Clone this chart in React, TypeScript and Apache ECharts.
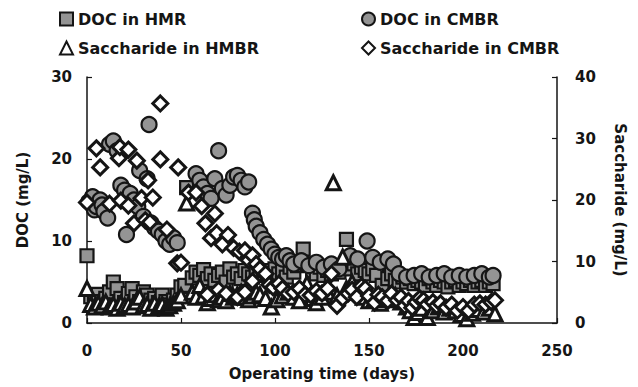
import React, { useEffect, useRef } from "react";
import * as echarts from "echarts";

// [day, DOC mg/L]
const docHmr: number[][] = [
  [0, 8.2], [2, 3.2], [4, 2.8], [6, 3.5], [8, 2.6], [10, 3.0], [12, 3.8], [14, 5.0], [16, 4.2], [18, 3.0],
  [20, 2.5], [22, 3.6], [24, 4.2], [26, 3.2], [28, 2.6], [30, 3.8], [32, 3.4], [34, 2.8], [36, 3.0], [38, 2.5],
  [40, 3.4], [42, 2.6], [44, 2.2], [46, 2.8], [48, 3.4], [50, 4.4], [52, 4.6], [53, 16.5], [56, 5.5], [58, 6.2],
  [60, 5.8], [62, 6.5], [64, 5.4], [66, 6.0], [68, 5.2], [70, 5.8], [72, 6.2], [74, 5.0], [76, 6.6], [78, 5.6],
  [80, 6.0], [82, 5.4], [84, 6.4], [86, 6.0], [88, 5.6], [90, 6.2], [92, 5.8], [94, 6.4], [96, 6.0], [98, 5.4],
  [100, 6.6], [102, 6.0], [104, 6.4], [106, 5.6], [108, 6.8], [110, 6.2], [112, 7.0], [115, 9.0], [117, 7.2], [120, 6.4],
  [122, 6.0], [124, 6.8], [126, 5.8], [128, 6.4], [130, 6.0], [132, 6.8], [134, 6.2], [136, 7.0], [138, 10.2], [140, 6.6],
  [142, 7.2], [144, 6.0], [146, 6.8], [148, 6.4], [150, 6.0], [152, 6.6], [154, 5.8], [157, 4.6], [160, 5.4], [162, 6.0],
  [164, 5.2], [166, 5.0], [168, 5.6], [170, 5.0], [172, 5.4], [174, 4.8], [176, 5.2], [178, 5.0], [180, 4.6], [182, 5.4],
  [184, 5.0], [186, 4.6], [188, 5.2], [190, 5.0], [192, 4.4], [194, 5.0], [196, 5.2], [198, 4.6], [200, 5.0], [202, 4.8],
  [204, 5.2], [206, 4.6], [208, 5.0], [210, 5.2], [212, 4.6], [214, 5.0], [216, 4.8],
];

// [day, DOC mg/L]
const docCmbr: number[][] = [
  [1, 14.8], [3, 15.4], [4, 13.8], [5, 14.2], [7, 15.0], [8, 14.4], [9, 13.6], [11, 12.8], [12, 21.8], [14, 22.2],
  [16, 21.0], [18, 16.8], [20, 16.2], [21, 10.8], [23, 15.8], [25, 15.0], [27, 14.2], [28, 18.6], [30, 13.0], [32, 17.6],
  [33, 24.2], [34, 12.2], [36, 11.6], [38, 11.2], [40, 10.8], [42, 10.0], [44, 9.6], [46, 10.4], [48, 9.8], [58, 18.2],
  [60, 17.4], [62, 16.6], [64, 15.8], [66, 15.2], [68, 17.6], [70, 21.0], [72, 16.4], [74, 15.6], [76, 16.8], [78, 17.8],
  [80, 18.0], [82, 17.4], [84, 16.6], [86, 17.2], [88, 13.4], [89, 12.6], [90, 11.8], [92, 11.0], [94, 10.2], [96, 9.6],
  [98, 9.0], [100, 8.4], [102, 8.0], [104, 7.8], [106, 8.2], [108, 7.6], [110, 7.2], [114, 7.6], [118, 7.0], [122, 7.4],
  [126, 6.8], [130, 7.2], [134, 6.6], [140, 8.2], [144, 7.8], [149, 10.0], [152, 8.0], [156, 7.4], [160, 7.8], [163, 7.2],
  [166, 6.0], [170, 5.6], [174, 5.8], [178, 6.0], [182, 5.6], [186, 5.8], [190, 6.0], [194, 5.6], [198, 5.8], [202, 5.6],
  [206, 5.8], [210, 6.0], [214, 5.6], [216, 5.8],
];

// [day, saccharide mg/L]
const saccHmbr: number[][] = [
  [0, 5.6], [2, 3.0], [4, 2.6], [6, 3.2], [8, 2.8], [10, 3.4], [12, 2.6], [14, 3.0], [16, 2.4], [18, 3.2],
  [20, 2.8], [22, 3.0], [24, 2.6], [26, 3.4], [28, 4.2], [30, 2.8], [32, 3.0], [34, 2.4], [36, 3.2], [38, 2.6],
  [40, 3.0], [42, 2.4], [44, 2.8], [46, 3.2], [48, 3.6], [50, 4.4], [53, 19.5], [56, 5.0], [58, 4.2], [60, 6.1],
  [62, 4.4], [64, 3.3], [66, 4.0], [68, 4.6], [70, 3.8], [72, 4.2], [74, 3.6], [76, 4.8], [78, 4.2], [80, 4.6],
  [82, 5.0], [84, 4.2], [86, 3.8], [88, 4.4], [90, 5.0], [92, 4.6], [95, 4.0], [98, 2.6], [101, 3.8], [104, 4.4],
  [107, 5.0], [110, 4.2], [113, 3.6], [117, 6.4], [120, 4.0], [122, 3.3], [125, 4.2], [128, 5.0], [131, 22.8], [133, 4.4],
  [136, 10.7], [138, 5.6], [141, 6.6], [144, 5.0], [147, 4.2], [150, 3.6], [153, 4.0], [156, 3.2], [160, 3.8], [164, 4.5],
  [167, 3.4], [170, 2.6], [172, 2.0], [174, 0.9], [176, 1.7], [178, 2.4], [181, 0.9], [184, 2.0], [187, 2.6], [190, 1.8],
  [193, 2.4], [196, 2.0], [199, 1.4], [202, 0.7], [205, 1.6], [208, 2.2], [211, 1.8], [214, 2.4], [217, 1.5],
];

// [day, saccharide mg/L]
const saccCmbr: number[][] = [
  [0, 19.6], [5, 28.4], [7, 25.3], [12, 19.4], [17, 26.8], [17.5, 28.6], [18, 19.9], [22, 28.2], [22, 19.1], [25, 16.2],
  [26.5, 26.4], [29, 20.3], [31, 16.7], [32.5, 23.2], [33.5, 16.4], [35, 20.4], [39, 35.7], [39, 26.6], [42.5, 15.2], [48.5, 25.3],
  [48, 9.7], [50, 9.8], [54, 21.2], [58, 21.2], [61, 19.0], [63, 16.2], [64, 4.6], [66, 13.8], [68, 17.8], [69, 14.6],
  [70, 5.4], [72, 12.8], [74, 4.8], [75, 14.3], [78, 12.2], [80, 4.2], [81, 11.6], [84, 11.8], [84, 5.0], [86, 10.2],
  [88, 11.0], [88, 6.8], [90, 9.6], [92, 8.8], [95, 8.0], [97, 6.2], [99, 5.8], [102, 6.4], [104, 5.6], [107, 4.8],
  [110, 5.0], [113, 5.6], [116, 4.6], [119, 4.5], [122, 5.2], [125, 4.8], [128, 5.6], [130, 8.0], [133, 2.8], [136, 4.0],
  [139, 4.8], [141, 5.4], [143.5, 4.2], [146, 6.0], [148, 5.6], [150, 4.4], [153, 3.3], [155, 4.6], [157, 4.2], [160, 3.6],
  [162, 4.8], [165, 3.7], [167, 4.2], [169, 2.8], [171, 3.6], [173, 2.5], [175, 3.4], [177, 4.0], [179, 3.7], [181, 3.0],
  [184, 3.4], [186, 2.8], [188, 3.2], [191, 2.5], [194, 3.0], [197, 2.0], [200, 2.6], [203, 2.0], [206, 3.0], [209, 3.2],
  [212, 3.0], [215, 3.4], [217, 3.7],
];

const seriesNames = ["DOC in HMR", "DOC in CMBR", "Saccharide in HMBR", "Saccharide in CMBR"];
const xTicks = { min: 0, max: 250, interval: 50 };
const docTicks = { min: 0, max: 30, interval: 10 };
const saccTicks = { min: 0, max: 40, interval: 10 };

const FONT = "DejaVu Sans";
const INK = "#151515";

export default function App() {
  const ref = useRef<HTMLDivElement>(null);

  useEffect(() => {
    if (!ref.current) return;
    const chart = echarts.init(ref.current, null, { renderer: "svg" });
    const axisCommon = {
      axisLine: { show: true, lineStyle: { color: INK, width: 1.5 } },
      axisTick: { show: true, inside: true, length: 5, lineStyle: { color: INK, width: 1.2 } },
      splitLine: { show: false },
      axisLabel: { color: INK, fontFamily: FONT, fontWeight: "bold", fontSize: 15 },
      nameTextStyle: { color: INK, fontFamily: FONT, fontWeight: "bold", fontSize: 15 },
    };
    const legendText = { color: INK, fontFamily: FONT, fontWeight: "bold", fontSize: 16 };
    const legendBase = { itemWidth: 13, itemHeight: 13, padding: 0, itemGap: 0, textStyle: legendText };
    chart.setOption({
      animation: false,
      backgroundColor: "#ffffff",
      grid: { left: 87, right: 81, top: 77, bottom: 64 },
      legend: [
        { ...legendBase, data: [seriesNames[0]], left: 59, top: 11 },
        { ...legendBase, data: [seriesNames[1]], left: 361, top: 11 },
        { ...legendBase, data: [seriesNames[2]], left: 59, top: 40 },
        { ...legendBase, data: [seriesNames[3]], left: 361, top: 40 },
      ],
      xAxis: {
        type: "value",
        ...xTicks,
        name: "Operating time (days)",
        nameLocation: "middle",
        nameGap: 43,
        ...axisCommon,
        axisLabel: { ...axisCommon.axisLabel, margin: 20 },
      },
      yAxis: [
        {
          type: "value",
          ...docTicks,
          position: "left",
          name: "DOC (mg/L)",
          nameLocation: "middle",
          nameRotate: 90,
          nameGap: 57,
          ...axisCommon,
          axisLabel: { ...axisCommon.axisLabel, margin: 15 },
        },
        {
          type: "value",
          ...saccTicks,
          position: "right",
          name: "Saccharide (mg/L)",
          nameLocation: "middle",
          nameRotate: -90,
          nameGap: 55,
          ...axisCommon,
          axisLabel: { ...axisCommon.axisLabel, margin: 18 },
        },
      ],
      series: [
        {
          name: seriesNames[0],
          type: "scatter",
          yAxisIndex: 0,
          symbol: "rect",
          symbolSize: 13,
          data: docHmr,
          itemStyle: { color: "#949494", borderColor: INK, borderWidth: 2.2, opacity: 1 },
        },
        {
          name: seriesNames[1],
          type: "scatter",
          yAxisIndex: 0,
          symbol: "circle",
          symbolSize: 15,
          data: docCmbr,
          itemStyle: { color: "#949494", borderColor: INK, borderWidth: 2.2, opacity: 1 },
        },
        {
          name: seriesNames[2],
          type: "scatter",
          yAxisIndex: 1,
          symbol: "triangle",
          symbolSize: 14,
          data: saccHmbr,
          itemStyle: { color: "#ffffff", borderColor: INK, borderWidth: 3, opacity: 1 },
        },
        {
          name: seriesNames[3],
          type: "scatter",
          yAxisIndex: 1,
          symbol: "diamond",
          symbolSize: 15,
          data: saccCmbr,
          itemStyle: { color: "#ffffff", borderColor: INK, borderWidth: 3, opacity: 1 },
        },
      ],
    });
    return () => chart.dispose();
  }, []);

  return (
    <div
      ref={ref}
      style={{ position: "fixed", left: 0, top: 0, width: 638, height: 387, background: "#fff" }}
    />
  );
}
